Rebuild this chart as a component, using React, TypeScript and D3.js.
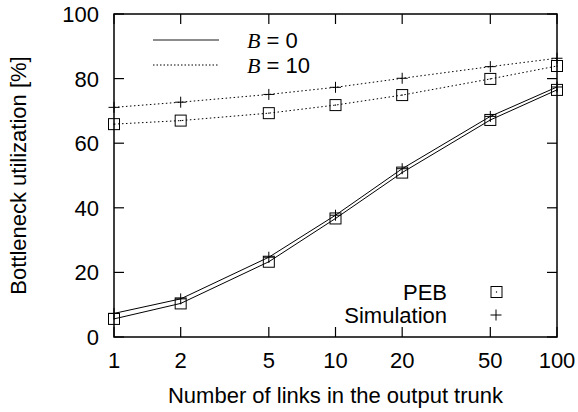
import React from "react";
import * as d3 from "d3";

const links = [1, 2, 5, 10, 20, 50, 100];
const pebB0 = [5.6, 10.4, 23.3, 36.7, 50.9, 67.2, 76.5];
const simB0 = [7.3, 11.8, 24.7, 37.7, 52.1, 68.3, 77.4];
const pebB10 = [65.9, 67, 69.3, 71.8, 74.9, 79.9, 83.9];
const simB10 = [71.1, 72.7, 75.1, 77.3, 80.1, 83.7, 86.3];
const xTicks = [1, 2, 5, 10, 20, 50, 100];
const yTicks = [0, 20, 40, 60, 80, 100];

const W = 578;
const H = 412;
const m = { left: 114, right: 21, top: 14, bottom: 75 };

export default function App() {
  const x = d3.scaleLog().domain([1, 100]).range([m.left, W - m.right]);
  const y = d3.scaleLinear().domain([0, 100]).range([H - m.bottom, m.top]);
  const line = d3
    .line<number>()
    .x((_, i) => x(links[i]))
    .y((d) => y(d));

  const sq = 5.5;
  const box = (cx: number, cy: number, k: string) => (
    <g key={k}>
      <rect x={cx - sq} y={cy - sq} width={sq * 2} height={sq * 2} fill="none" stroke="#000" strokeWidth={1} />
      <rect x={cx - 0.6} y={cy - 0.6} width={1.2} height={1.2} fill="#000" />
    </g>
  );
  const plus = (cx: number, cy: number, k: string) => (
    <path key={k} d={`M${cx - 5.5},${cy}H${cx + 5.5}M${cx},${cy - 5.5}V${cy + 5.5}`} stroke="#000" strokeWidth={1} />
  );

  const font = "'Liberation Sans', Arial, Helvetica, sans-serif";
  const serif = "'Liberation Serif', 'Times New Roman', serif";
  const x0 = m.left;
  const x1 = W - m.right;
  const y0 = H - m.bottom;
  const y1 = m.top;
  const tl = 10;
  const fs = 22;

  return (
    <svg width={W} height={H} style={{ position: "absolute", left: 0, top: 0 }} fontFamily={font}>
      <rect width={W} height={H} fill="#fff" />
      {/* frame */}
      <rect x={x0} y={y1} width={x1 - x0} height={y0 - y1} fill="none" stroke="#000" strokeWidth={1.5} />
      {/* y ticks */}
      {yTicks.map((t) => (
        <g key={"y" + t}>
          <line x1={x0} x2={x0 + tl} y1={y(t)} y2={y(t)} stroke="#000" strokeWidth={1.2} />
          <line x1={x1} x2={x1 - tl} y1={y(t)} y2={y(t)} stroke="#000" strokeWidth={1.2} />
          <text x={x0 - 15} y={y(t)} dy="0.36em" textAnchor="end" fontSize={fs}>
            {t}
          </text>
        </g>
      ))}
      {/* x ticks */}
      {xTicks.map((t) => (
        <g key={"x" + t}>
          <line x1={x(t)} x2={x(t)} y1={y0} y2={y0 - tl} stroke="#000" strokeWidth={1.2} />
          <line x1={x(t)} x2={x(t)} y1={y1} y2={y1 + tl} stroke="#000" strokeWidth={1.2} />
          <text x={x(t)} y={368} textAnchor="middle" fontSize={fs}>
            {t}
          </text>
        </g>
      ))}
      {/* axis titles */}
      <text x={(x0 + x1) / 2} y={403} textAnchor="middle" fontSize={fs}>
        Number of links in the output trunk
      </text>
      <text transform={`translate(26,${(y0 + y1) / 2}) rotate(-90)`} textAnchor="middle" fontSize={fs}>
        Bottleneck utilization [%]
      </text>

      {/* series lines */}
      <path d={line(simB0) || ""} fill="none" stroke="#000" strokeWidth={1} />
      <path d={line(pebB0) || ""} fill="none" stroke="#000" strokeWidth={1} />
      <path d={line(simB10) || ""} fill="none" stroke="#000" strokeWidth={1} strokeDasharray="1.5,2.5" />
      <path d={line(pebB10) || ""} fill="none" stroke="#000" strokeWidth={1} strokeDasharray="1.5,2.5" />

      {/* markers */}
      {pebB0.map((v, i) => box(x(links[i]), y(v), "pb0" + i))}
      {pebB10.map((v, i) => box(x(links[i]), y(v), "pb10" + i))}
      {simB0.map((v, i) => plus(x(links[i]), y(v), "sb0" + i))}
      {simB10.map((v, i) => plus(x(links[i]), y(v), "sb10" + i))}

      {/* line style legend */}
      <line x1={153} x2={219} y1={40} y2={40} stroke="#666" strokeWidth={1.3} />
      <line x1={153} x2={218} y1={65} y2={65} stroke="#000" strokeWidth={1} strokeDasharray="1.5,2" />
      <text x={247} y={48} fontSize={fs}>
        <tspan fontFamily={serif} fontStyle="italic">B</tspan> = 0
      </text>
      <text x={247} y={73} fontSize={fs}>
        <tspan fontFamily={serif} fontStyle="italic">B</tspan> = 10
      </text>

      {/* marker legend */}
      <text x={447} y={300} textAnchor="end" fontSize={fs}>
        PEB
      </text>
      <text x={447} y={323} textAnchor="end" fontSize={fs}>
        Simulation
      </text>
      {box(496.5, 292, "lgbox")}
      {plus(496, 315, "lgplus")}
    </svg>
  );
}
